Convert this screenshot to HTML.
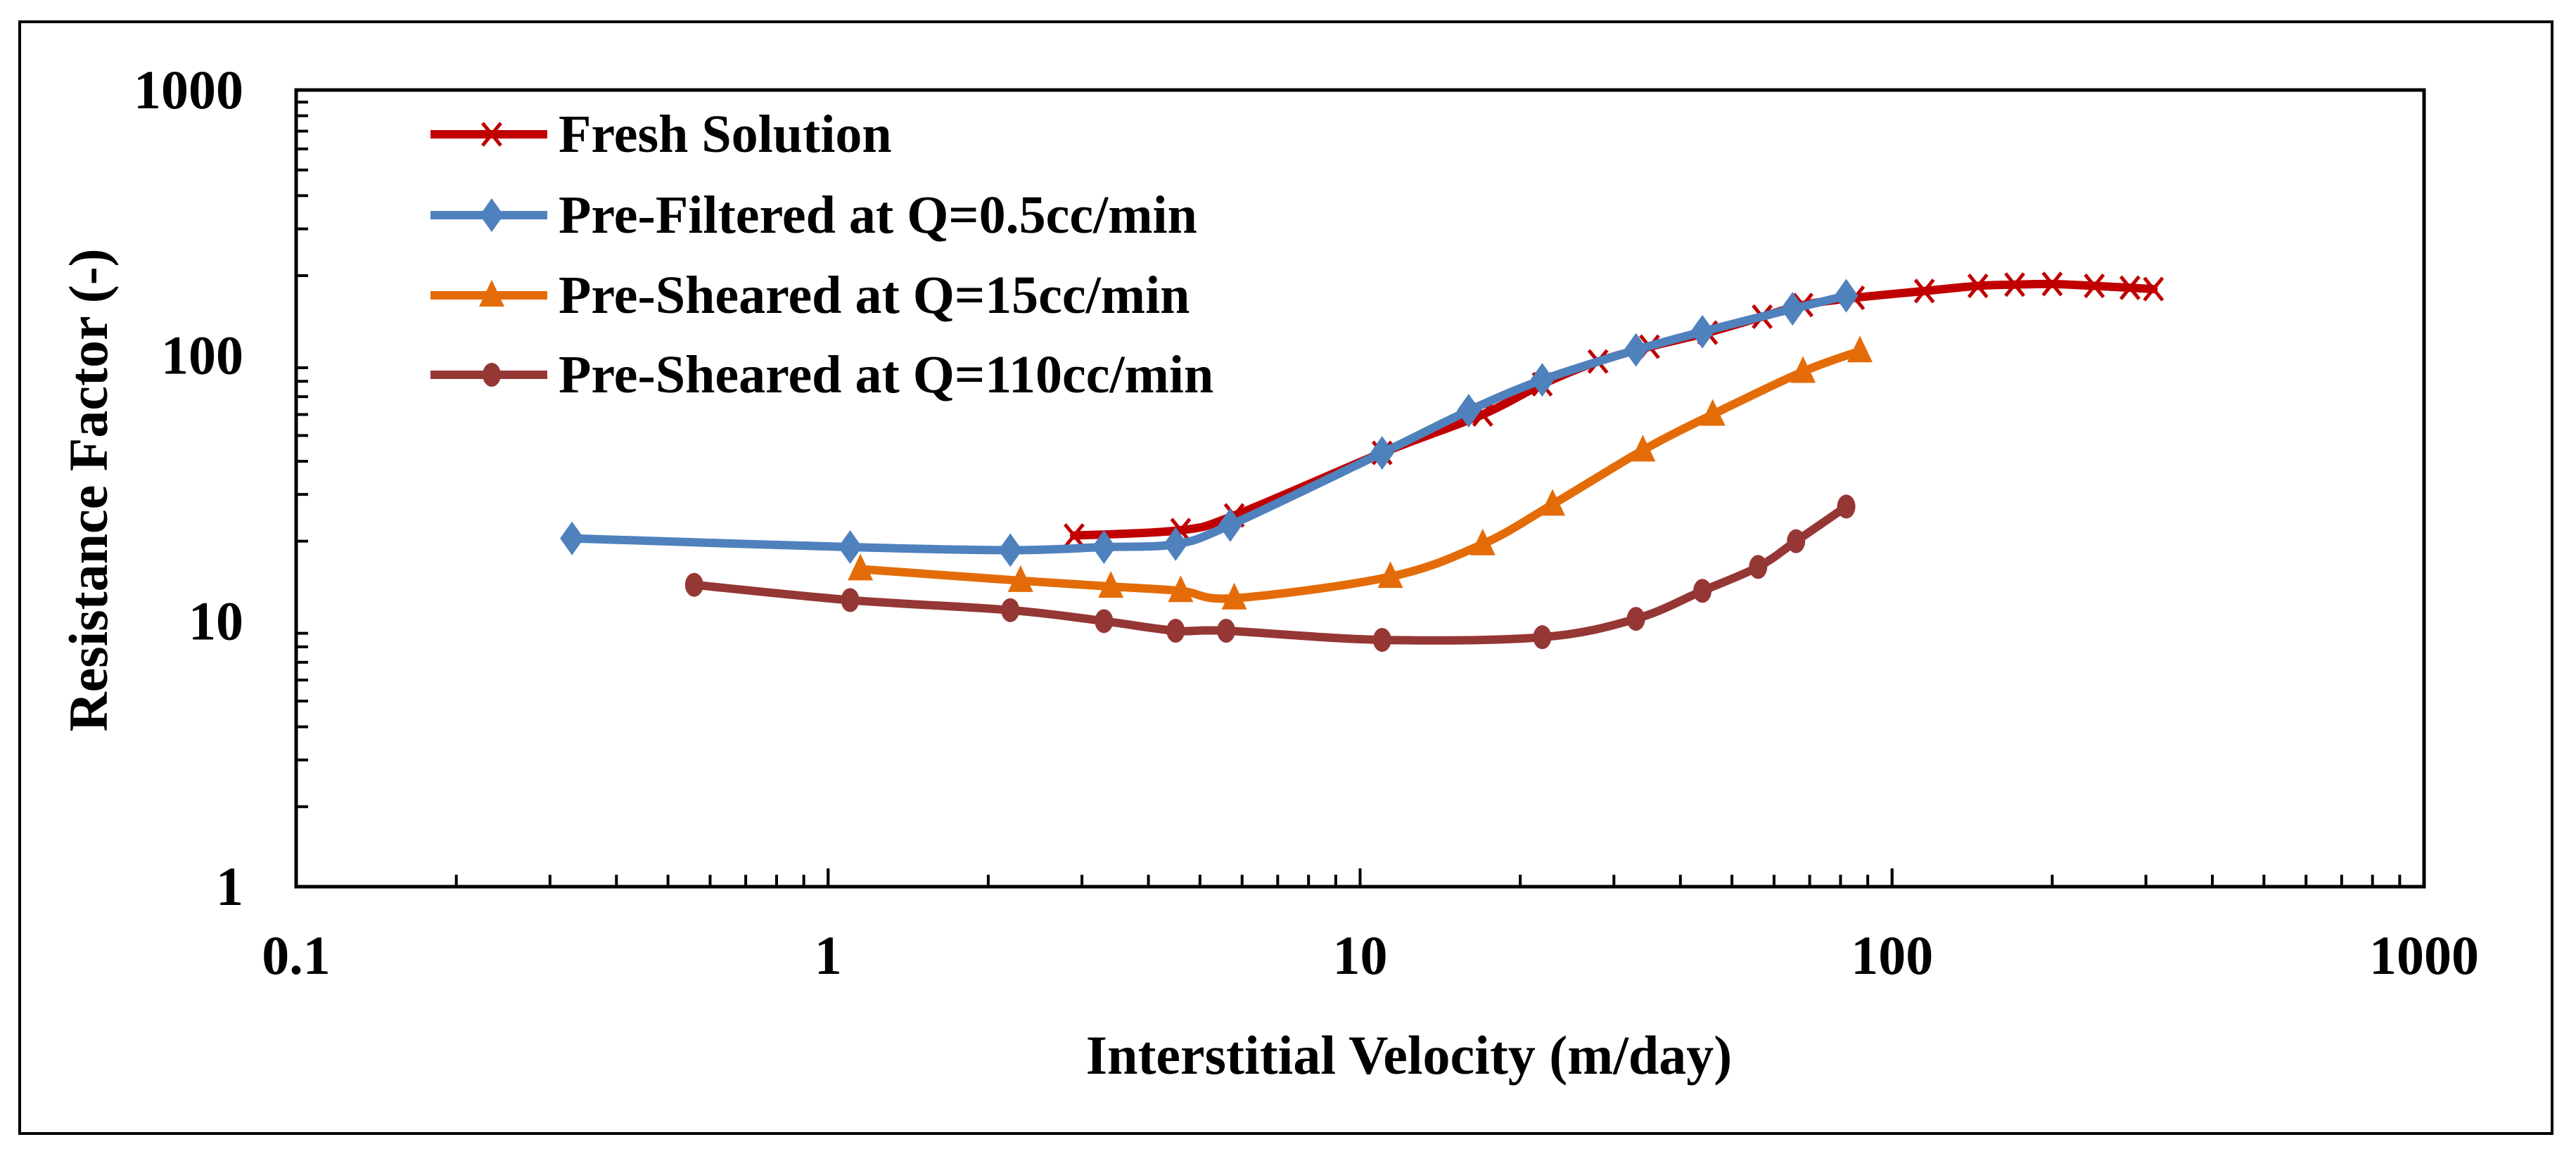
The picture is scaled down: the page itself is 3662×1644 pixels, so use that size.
<!DOCTYPE html>
<html><head><meta charset="utf-8"><style>
html,body{margin:0;padding:0;background:#fff}
svg{display:block;font-family:"Liberation Serif","Times New Roman",Times,"DejaVu Serif",serif}
svg text{font-family:"Liberation Serif","Times New Roman",Times,"DejaVu Serif",serif;font-weight:700;fill:#000}
</style></head><body>
<svg id="chart" width="3662" height="1644" viewBox="0 0 3662 1644" xmlns="http://www.w3.org/2000/svg" font-family="Liberation Serif, Times New Roman, serif">
<rect x="28" y="31" width="3600" height="1581" fill="#fff" stroke="#000" stroke-width="4"/>
<g id="series"></g>
<rect x="421" y="128" width="3025" height="1133" fill="none" stroke="#000" stroke-width="5"/>
<g id="ticks"></g>
<g id="legend"></g>
<text x="2003" y="1527" font-size="78" text-anchor="middle" font-family="Liberation Serif, serif" font-weight="bold">Interstitial Velocity (m/day)</text>
<text transform="translate(152,697) rotate(-90)" font-size="78" text-anchor="middle" font-family="Liberation Serif, serif" font-weight="bold">Resistance Factor (-)</text>
</svg>
<script>
const xTickLabels = ["0.1","1","10","100","1000"];
const xTickValues = [0.1,1,10,100,1000];
const yTickLabels = ["1","10","100","1000"];
const yTickValues = [1,10,100,1000];
const seriesNames = ["Fresh Solution","Pre-Filtered at Q=0.5cc/min","Pre-Sheared at Q=15cc/min","Pre-Sheared at Q=110cc/min"];
const freshX = [2.9,4.6,5.8,11,17,22,28,35,45,57,68,85,115,145,170,200,240,280,310];
const freshY = [21,22,25,43,60,78,95,108,122,140,155,165,175,183,185,186,183,180,178];
const filteredX = [0.33,1.1,2.2,3.3,4.5,5.7,11,16,22,33,44,65,82];
const filteredY = [20.5,19,18.5,19,19.5,23,43,62,81,105,123,150,168];
const sheared15X = [1.15,2.3,3.4,4.6,5.8,11.4,17,23,34,46,68,87];
const sheared15Y = [15.7,14.2,13.5,13,12.2,14.7,19.5,27.5,44,60,87,104];
const sheared110X = [0.56,1.1,2.2,3.3,4.5,5.6,11,22,33,44,56,66,82];
const sheared110Y = [13.7,12,11,10,9.2,9.2,8.5,8.7,10.2,13,16,20,27];

const NS="http://www.w3.org/2000/svg";
const X0=421,X1=3446,Y0=1261,Y1=128;
function xs(v){return X0+(Math.log10(v)+1)/4*(X1-X0);}
function ys(v){return Y0-Math.log10(v)/3*(Y0-Y1);}
function mk(tag,attrs,parent){const e=document.createElementNS(NS,tag);for(const k in attrs)e.setAttribute(k,attrs[k]);parent.appendChild(e);return e;}
const FONT='Liberation Serif, Times New Roman, serif';
const ticks=document.getElementById('ticks');
for(let d=-1;d<3;d++){for(let m=1;m<=10;m++){const v=m*Math.pow(10,d);const x=xs(v);const len=(m===1||m===10)?26:17;
 const t=mk('line',{x1:x,y1:Y0,x2:x,y2:Y0-len,stroke:'#000','stroke-width':4},ticks);
 
 }}
for(let d=0;d<3;d++){for(let m=2;m<=9;m++){const y=ys(m*Math.pow(10,d));
 const t=mk('line',{x1:X0,y1:y,x2:X0+17,y2:y,stroke:'#000','stroke-width':4},ticks);
 
 }}
xTickValues.forEach((v,i)=>{const t=mk('text',{x:xs(v),y:1385,'font-size':78,'text-anchor':'middle','font-family':FONT,'font-weight':'bold'},ticks);t.textContent=xTickLabels[i];
 
 });
yTickValues.forEach((v,i)=>{const t=mk('text',{x:346,y:ys(v)+26,'font-size':78,'text-anchor':'end','font-family':FONT,'font-weight':'bold'},ticks);t.textContent=yTickLabels[i];
 
 });

function smoothPath(pts){let d=`M${pts[0][0]},${pts[0][1]}`;
 for(let i=0;i<pts.length-1;i++){const p0=pts[i-1]||pts[i],p1=pts[i],p2=pts[i+1],p3=pts[i+2]||p2;
  const c1=[p1[0]+(p2[0]-p0[0])/6,p1[1]+(p2[1]-p0[1])/6],c2=[p2[0]-(p3[0]-p1[0])/6,p2[1]-(p3[1]-p1[1])/6];
  d+=` C${c1[0]},${c1[1]} ${c2[0]},${c2[1]} ${p2[0]},${p2[1]}`;}return d;}
function marker(type,x,y,color,parent){let e;
 if(type==='x'){e=mk('path',{d:`M${x-13},${y-16}L${x+13},${y+16}M${x-13},${y+16}L${x+13},${y-16}`,stroke:color,'stroke-width':5,fill:'none'},parent);}
 else if(type==='diamond'){e=mk('path',{d:`M${x},${y-24}L${x+17},${y}L${x},${y+24}L${x-17},${y}Z`,fill:color},parent);}
 else if(type==='tri'){e=mk('path',{d:`M${x},${y-22}L${x+18},${y+16}L${x-18},${y+16}Z`,fill:color},parent);}
 else {e=mk('ellipse',{cx:x,cy:y,rx:13,ry:17,fill:color},parent);}
 return e;}
const series=[
 {xv:freshX,yv:freshY,color:'#C00000',m:'x'},
 {xv:filteredX,yv:filteredY,color:'#4F81BD',m:'diamond'},
 {xv:sheared15X,yv:sheared15Y,color:'#E36C09',m:'tri'},
 {xv:sheared110X,yv:sheared110Y,color:'#953735',m:'circle'}];
const sg=document.getElementById('series');
const lg=document.getElementById('legend');
const legendY=[191,306,420,533];
series.forEach((s,i)=>{const g=mk('g',{},sg);
 
 
 const pts=s.xv.map((v,j)=>[xs(v),ys(s.yv[j])]);
 const p=mk('path',{d:smoothPath(pts),stroke:s.color,'stroke-width':12,fill:'none','stroke-linejoin':'round','stroke-linecap':'round'},g);
 
 
 pts.forEach(q=>{const m=marker(s.m,q[0],q[1],s.color,g);
  
  });
 const lgE=mk('g',{},lg);
 
 
 const y=legendY[i];
 mk('line',{x1:612,y1:y,x2:778,y2:y,stroke:s.color,'stroke-width':12},lgE);
 marker(s.m,699,y,s.color,lgE);
 const t=mk('text',{x:794,y:y+25,'font-size':76,'font-family':FONT,'font-weight':'bold'},lgE);t.textContent=seriesNames[i];
});
</script>
</body></html>
